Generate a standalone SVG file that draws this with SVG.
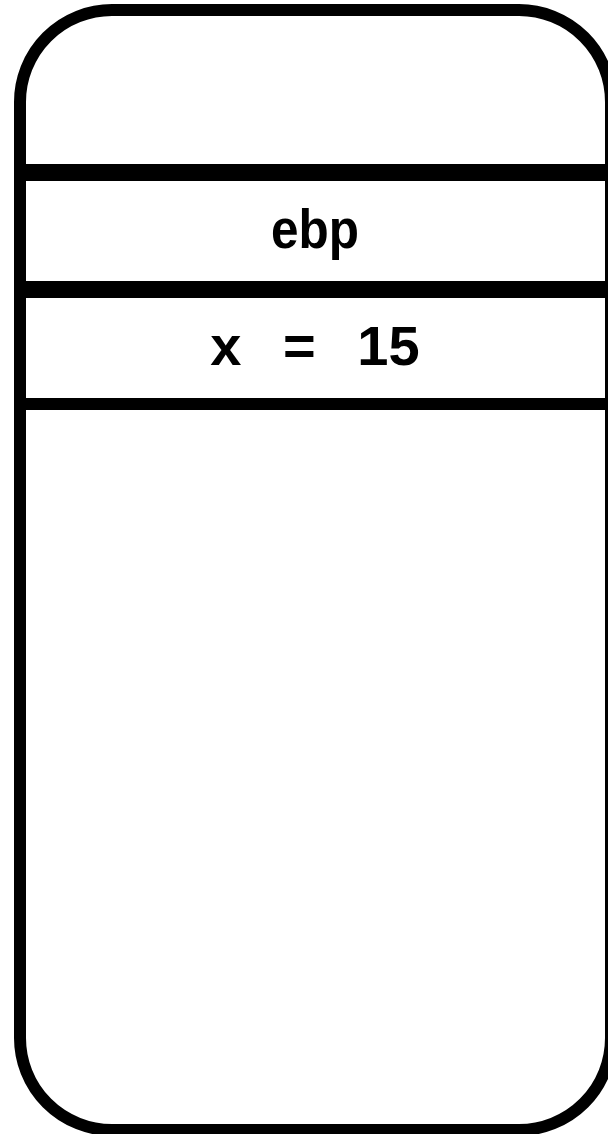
<svg xmlns="http://www.w3.org/2000/svg" width="608" height="1134" viewBox="0 0 608 1134">
<style>
.frame{fill:#fff;stroke:#000;stroke-width:12}
.sep{stroke:#000;fill:none}
.lbl{font-family:"Liberation Sans",Arial,sans-serif;font-weight:bold;font-size:56px;fill:#000;text-anchor:middle}
</style>
<g id="stack">
<rect class="frame" x="20" y="10" width="591" height="1120" rx="92" ry="92"/>
</g>
<g id="connectors">
<line class="sep" x1="20" y1="172.5" x2="612" y2="172.5" stroke-width="17"/>
<line class="sep" x1="20" y1="289.5" x2="612" y2="289.5" stroke-width="17"/>
<line class="sep" x1="20" y1="404" x2="612" y2="404" stroke-width="12"/>
</g>
<g id="cell-ebp">
<text class="lbl" x="315" y="248" font-size="54" textLength="88" lengthAdjust="spacingAndGlyphs">ebp</text>
</g>
<g id="cell-x">
<text class="lbl" x="315" y="365" word-spacing="26" xml:space="preserve">x = 15</text>
</g>
</svg>
